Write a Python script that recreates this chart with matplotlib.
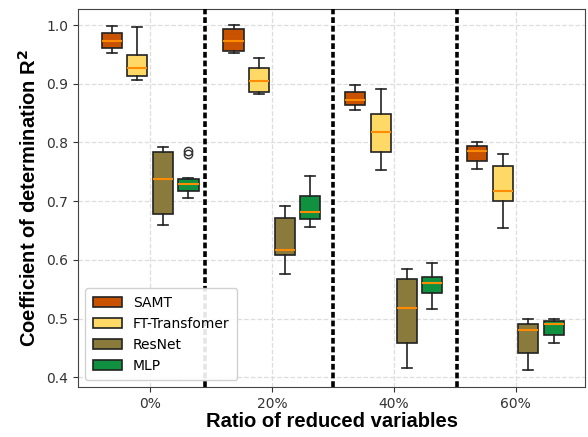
import matplotlib.pyplot as plt
import numpy as np

# reduction ratios and models
ratios = ['0%', '20%', '40%', '60%']
models = ['SAMT', 'FT-Transfomer', 'ResNet', 'MLP']
colors = ['#c85200', '#ffd966', '#8a7a3c', '#0f9140']

# box statistics per model, one value per ratio
whislo = {
    'SAMT': [0.953, 0.953, 0.855, 0.755],
    'FT-Transfomer': [0.907, 0.882, 0.753, 0.654],
    'ResNet': [0.659, 0.576, 0.415, 0.413],
    'MLP': [0.705, 0.656, 0.517, 0.459],
}
q1 = {
    'SAMT': [0.961, 0.955, 0.863, 0.769],
    'FT-Transfomer': [0.913, 0.886, 0.784, 0.700],
    'ResNet': [0.678, 0.609, 0.459, 0.441],
    'MLP': [0.718, 0.670, 0.544, 0.472],
}
med = {
    'SAMT': [0.973, 0.972, 0.873, 0.785],
    'FT-Transfomer': [0.927, 0.904, 0.817, 0.718],
    'ResNet': [0.738, 0.617, 0.518, 0.480],
    'MLP': [0.730, 0.682, 0.560, 0.490],
}
q3 = {
    'SAMT': [0.986, 0.993, 0.886, 0.794],
    'FT-Transfomer': [0.949, 0.926, 0.849, 0.759],
    'ResNet': [0.784, 0.671, 0.567, 0.490],
    'MLP': [0.738, 0.708, 0.570, 0.496],
}
whishi = {
    'SAMT': [0.998, 1.000, 0.898, 0.800],
    'FT-Transfomer': [0.996, 0.943, 0.891, 0.780],
    'ResNet': [0.792, 0.692, 0.584, 0.499],
    'MLP': [0.739, 0.743, 0.595, 0.499],
}
fliers = {
    'SAMT': [[], [], [], []],
    'FT-Transfomer': [[], [], [], []],
    'ResNet': [[], [], [], []],
    'MLP': [[0.786, 0.780], [], [], []],
}

fig = plt.figure(figsize=(5.88, 4.37), dpi=100)
ax = fig.add_axes([0.133, 0.114, 0.862, 0.865])

offsets = [-0.315, -0.105, 0.105, 0.315]
base = np.arange(len(ratios))

for k, m in enumerate(models):
    stats = []
    for i in range(len(ratios)):
        stats.append(dict(whislo=whislo[m][i], q1=q1[m][i], med=med[m][i],
                          q3=q3[m][i], whishi=whishi[m][i], fliers=fliers[m][i]))
    ax.bxp(stats, positions=base + offsets[k], widths=0.165, patch_artist=True,
           manage_ticks=False,
           boxprops=dict(facecolor=colors[k], edgecolor='#222222', linewidth=1.2),
           medianprops=dict(color='#ff8c00', linewidth=1.5),
           whiskerprops=dict(color='#222222', linewidth=1.2),
           capprops=dict(color='#222222', linewidth=1.2),
           flierprops=dict(marker='o', markerfacecolor='none',
                           markeredgecolor='#333333', markersize=6))

# separators between ratio groups
for xv in [0.45, 1.505, 2.52]:
    ax.axvline(xv, color='black', linewidth=2.6, linestyle=(0, (1.6, 0.8)), zorder=3)

ax.set_xlim(-0.59, 3.57)
ax.set_ylim(0.383, 1.027)
ax.set_xticks(base)
ax.set_xticklabels(ratios)
ax.set_yticks([0.4, 0.5, 0.6, 0.7, 0.8, 0.9, 1.0])
ax.tick_params(labelsize=10, labelcolor='#333333', color='#333333')
ax.grid(True, linestyle='--', color='#dddddd', linewidth=0.9)
ax.set_axisbelow(True)
for s in ax.spines.values():
    s.set_color('#444444')

ax.set_xlabel('Ratio of reduced variables', fontsize=14.5, fontweight='bold',
              family='Liberation Sans', labelpad=1)
ax.set_ylabel(r'Coefficient of determination R$^\mathbf{2}$', fontsize=14.5,
              fontweight='bold', family='Liberation Sans', labelpad=5)

handles = [plt.Rectangle((0, 0), 1, 1, facecolor=c, edgecolor='#222222', linewidth=1.2)
           for c in colors]
ax.legend(handles, models, loc='lower left', fontsize=10, borderpad=0.55,
          labelspacing=0.5, handlelength=2.1, framealpha=0.9,
          bbox_to_anchor=(0.0, 0.0))

fig.savefig('out.png', dpi=100)
